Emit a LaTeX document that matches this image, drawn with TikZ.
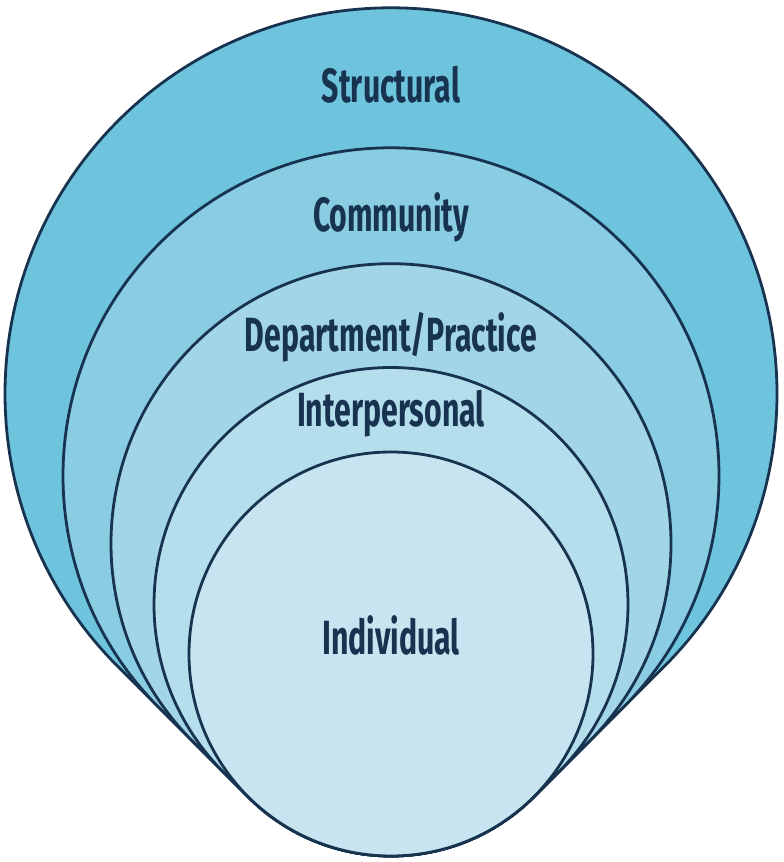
\documentclass[tikz,border=0pt]{standalone}
\usepackage{fontspec}
\newfontfamily\labelfont{Fira Sans}[FakeStretch=0.63]
\usetikzlibrary{calc}
\definecolor{navy}{HTML}{17334F}
\definecolor{structural}{HTML}{6EC4DC}
\definecolor{community}{HTML}{8ACCE2}
\definecolor{department}{HTML}{A2D5E6}
\definecolor{interpersonal}{HTML}{B5DEEC}
\definecolor{individual}{HTML}{C7E5F0}
\newcommand{\rzero}{202}
%円とIndividualの円を共通接線でつないだ形
\newcommand{\layer}[3]{
\draw[layer, fill=#3] ($(#1)+(-45:#2)$) arc[start angle=-45, end angle=225, radius=#2]
  -- ($(I)+(225:\rzero)$) arc[start angle=225, end angle=315, radius=\rzero] -- cycle;
}

\begin{document}
\begin{tikzpicture}[x=1pt, y=1pt,
  layer/.style={draw=navy, line width=2.8pt, line join=round},
  label/.style={text=navy, font=\labelfont\bfseries\fontsize{48}{52}\selectfont, anchor=base}]
\useasboundingbox (0,0) rectangle (784,862);

%中心は接線が45度になるように (y = 208 + sqrt2*(r-202))
\coordinate (I) at (391,208);
\coordinate (P) at (391,257.5);
\coordinate (D) at (391,318.3);
\coordinate (C) at (391,386.2);
\coordinate (S) at (391,468.2);

\layer{S}{386}{structural}
\layer{C}{328}{community}
\layer{D}{280}{department}
\layer{P}{237}{interpersonal}

%Individual
\draw[layer, fill=individual] (I) circle[radius=\rzero];

\node[label] (structural) at (391,759) {Structural};
\node[label] (community) at (391,630) {Community};
\node[label] (department) at (391,510) {Department/Practice};
\node[label] (interpersonal) at (391,435) {Interpersonal};
\node[label] (individual) at (391,207) {Individual};
\end{tikzpicture}
\end{document}
